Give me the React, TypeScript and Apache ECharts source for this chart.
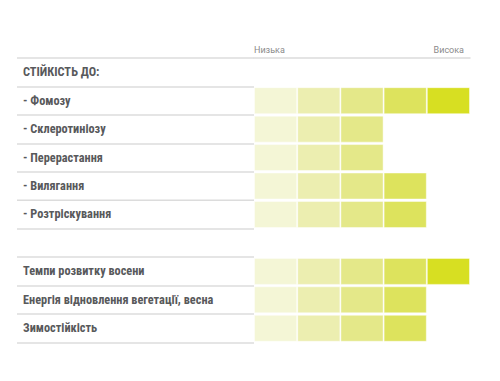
import React, { useEffect, useRef } from "react";
import * as echarts from "echarts";

const categories = [
  "СТІЙКІСТЬ ДО:",
  "- Фомозу",
  "- Склеротиніозу",
  "- Перерастання",
  "- Вилягання",
  "- Розтріскування",
  " ",
  "Темпи розвитку восени",
  "Енергія відновлення вегетації, весна",
  "Зимостійкість",
];
const ratings: (number | null)[] = [null, 5, 3, 3, 4, 4, null, 5, 4, 4];
const levelColors = ["#f4f6d6", "#eceeb0", "#e4e889", "#dde35d", "#d7df22"];
const scaleLabels = ["Низька", "Висока"];

export default function App() {
  const ref = useRef<HTMLDivElement>(null);
  useEffect(() => {
    if (!ref.current) return;
    const chart = echarts.init(ref.current, null, { renderer: "svg" });
    const series = levelColors.map((c, i) => ({
      type: "bar",
      stack: "lvl",
      barWidth: 27,
      silent: true,
      itemStyle: { color: c, borderColor: "rgba(255,255,255,0.45)", borderWidth: 1 },
      data: ratings.map((r) => (r != null && r > i ? 1 : "-")),
    }));
    chart.setOption({
      animation: false,
      grid: { left: 254, right: 30, top: 58, bottom: 38.5, containLabel: false },
      xAxis: {
        type: "value",
        position: "top",
        min: 0,
        max: 5,
        interval: 1,
        splitLine: { show: false },
        axisTick: { show: false },
        axisLine: { show: true, lineStyle: { color: "#dcdcdc", width: 1.5 } },
        axisLabel: {
          show: true,
          margin: 4,
          alignMinLabel: "left",
          alignMaxLabel: "right",
          formatter: (v: number) =>
            v === 0 ? "{l|" + scaleLabels[0] + "}" : v === 5 ? "{r|" + scaleLabels[1] + "}" : "",
          rich: {
            l: { fontSize: 9, color: "#8a8a8a", fontFamily: "Roboto, sans-serif", padding: [0, 0, 0, 0] },
            r: { fontSize: 9, color: "#8a8a8a", fontFamily: "Roboto, sans-serif", padding: [0, 6, 0, 0] },
          },
        },
      },
      yAxis: {
        type: "category",
        inverse: true,
        data: categories,
        axisLine: { show: false },
        axisTick: {
          show: true,
          interval: 0,
          length: 237,
          lineStyle: { color: "#dcdcdc", width: 1.5 },
        },
        axisLabel: {
          interval: 0,
          align: "left",
          margin: 231,
          fontSize: 12.3,
          fontWeight: "bold",
          color: "#58595b",
          fontFamily: "'Roboto Condensed', Roboto, sans-serif",
        },
      },
      series,
    });
    return () => chart.dispose();
  }, []);
  return (
    <div
      ref={ref}
      style={{ position: "absolute", left: 0, top: 0, width: 500, height: 381, background: "#fff" }}
    />
  );
}
